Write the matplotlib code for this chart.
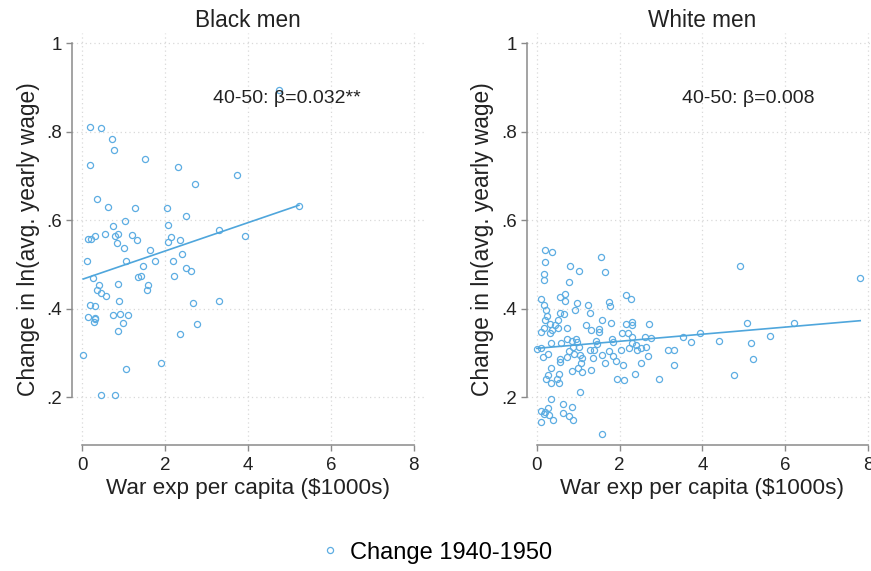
import matplotlib
matplotlib.use("Agg")
import matplotlib.pyplot as plt
import numpy as np

plt.rcParams['font.family'] = ['Liberation Sans', 'DejaVu Sans']

# Black men, change 1940-1950 (war exp per capita in $1000s, change in ln wage)
black_x = [0.18, 0.44, 0.72, 0.77, 0.19, 1.51, 2.30, 3.73, 2.71, 0.35, 0.62, 1.26, 2.04, 2.51,
           1.04, 0.75, 2.08, 0.55, 0.85, 1.20, 0.31, 0.14, 0.21, 0.79, 1.31, 2.14, 2.37, 2.06,
           0.83, 3.30, 3.94, 5.23, 1.00, 1.63, 2.41, 0.10, 1.05, 1.75, 2.19, 1.46, 2.51, 2.62,
           0.26, 1.34, 1.42, 2.22, 0.39, 0.87, 1.58, 0.35, 1.57, 0.46, 0.56, 0.88, 0.18, 0.30,
           2.67, 3.30, 0.14, 0.30, 0.31, 0.74, 0.90, 1.09, 0.29, 0.85, 0.98, 2.76, 2.36, 0.02,
           1.05, 1.91, 0.46, 0.78, 4.74]
black_y = [0.810, 0.809, 0.783, 0.760, 0.725, 0.738, 0.721, 0.703, 0.683, 0.649, 0.630, 0.629,
           0.627, 0.611, 0.598, 0.588, 0.590, 0.570, 0.570, 0.568, 0.565, 0.557, 0.558, 0.564,
           0.556, 0.562, 0.556, 0.551, 0.549, 0.578, 0.565, 0.633, 0.537, 0.533, 0.525, 0.509,
           0.509, 0.508, 0.509, 0.496, 0.492, 0.485, 0.471, 0.472, 0.475, 0.474, 0.453, 0.456,
           0.455, 0.443, 0.443, 0.435, 0.429, 0.419, 0.409, 0.406, 0.413, 0.417, 0.381, 0.380,
           0.378, 0.387, 0.388, 0.387, 0.370, 0.351, 0.368, 0.367, 0.344, 0.296, 0.264, 0.277,
           0.205, 0.205, 0.895]

# White men, change 1940-1950
white_x = [0.19, 0.36, 0.19, 1.55, 0.79, 1.02, 1.65, 0.18, 0.18, 0.77, 4.90, 7.81, 0.10, 0.56,
           0.69, 0.68, 2.16, 2.27, 0.17, 0.97, 1.23, 1.75, 1.76, 0.21, 0.55, 0.65, 0.91, 1.28,
           0.24, 0.19, 0.32, 0.44, 0.50, 0.37, 0.52, 0.72, 0.09, 0.18, 0.31, 1.58, 1.80, 1.19,
           1.30, 1.50, 1.50, 2.15, 2.31, 2.31, 2.72, 2.06, 2.19, 2.29, 2.60, 2.75, 5.08, 6.21,
           0.73, 0.84, 0.94, 0.98, 0.59, 0.33, 0.00, 0.09, 0.87, 1.02, 1.44, 1.46, 1.82, 1.85,
           2.31, 2.39, 2.51, 2.63, 2.42, 2.23, 2.04, 3.52, 3.94, 3.73, 4.39, 5.18, 5.64, 3.16,
           3.31, 0.77, 0.90, 1.04, 1.10, 0.73, 0.57, 0.55, 0.14, 0.27, 1.28, 1.38, 1.74, 1.58,
           1.84, 1.90, 2.07, 2.69, 2.51, 3.31, 5.23, 1.35, 1.64, 1.06, 0.99, 0.84, 0.35, 0.53,
           1.10, 1.31, 2.36, 2.95, 1.93, 2.11, 4.75, 0.27, 0.21, 0.48, 0.54, 0.34, 1.05, 0.35,
           0.62, 0.86, 0.11, 0.19, 0.27, 0.18, 0.63, 0.30, 0.78, 0.88, 0.40, 0.10, 1.58]
white_y = [0.534, 0.528, 0.507, 0.517, 0.496, 0.486, 0.484, 0.478, 0.465, 0.461, 0.498, 0.470,
           0.422, 0.427, 0.433, 0.418, 0.431, 0.422, 0.409, 0.413, 0.409, 0.415, 0.407, 0.397,
           0.391, 0.388, 0.397, 0.391, 0.385, 0.376, 0.366, 0.363, 0.358, 0.353, 0.376, 0.356,
           0.348, 0.356, 0.345, 0.375, 0.369, 0.363, 0.352, 0.354, 0.347, 0.366, 0.371, 0.363,
           0.367, 0.345, 0.345, 0.337, 0.337, 0.335, 0.369, 0.369, 0.333, 0.328, 0.332, 0.325,
           0.322, 0.322, 0.309, 0.311, 0.315, 0.315, 0.328, 0.321, 0.331, 0.326, 0.322, 0.318,
           0.311, 0.315, 0.308, 0.312, 0.308, 0.336, 0.345, 0.326, 0.328, 0.324, 0.340, 0.308,
           0.308, 0.305, 0.299, 0.296, 0.290, 0.292, 0.288, 0.281, 0.292, 0.299, 0.308, 0.307,
           0.305, 0.296, 0.293, 0.282, 0.274, 0.293, 0.279, 0.273, 0.287, 0.290, 0.277, 0.277,
           0.266, 0.260, 0.266, 0.254, 0.258, 0.262, 0.254, 0.241, 0.241, 0.239, 0.251, 0.250,
           0.241, 0.241, 0.232, 0.232, 0.213, 0.196, 0.185, 0.178, 0.169, 0.168, 0.177, 0.162,
           0.166, 0.160, 0.158, 0.150, 0.150, 0.145, 0.117]

# linear fits (intercept, slope) as shown on the chart
black_fit = [0.467, 0.032]
white_fit = [0.311, 0.008]

titles = ["Black men", "White men"]
notes = ["40-50: β=0.032**", "40-50: β=0.008"]
note_x = [3.16, 3.51]

x_ticks = [0, 2, 4, 6, 8]
y_ticks = [0.2, 0.4, 0.6, 0.8, 1.0]
y_ticklabels = [".2", ".4", ".6", ".8", "1"]

dot_color = '#5DADE2'
line_color = '#4FA6DC'
axis_color = '#8a8a8a'

fig = plt.figure(figsize=(8.71, 5.71), dpi=100)
ax1 = fig.add_axes([0.0827, 0.2198, 0.404, 0.7224])
ax2 = fig.add_axes([0.6045, 0.2198, 0.404, 0.7224])

panels = [(ax1, black_x, black_y, black_fit), (ax2, white_x, white_y, white_fit)]

for i, (ax, xs, ys, fit) in enumerate(panels):
    ax.set_xlim(-0.25, 8.25)
    ax.set_ylim(0.0915, 1.0235)
    ax.set_xticks(x_ticks)
    ax.set_yticks(y_ticks)
    ax.set_yticklabels(y_ticklabels)
    ax.grid(True, linestyle=(0, (1, 2.5)), color='#d9d9d9', linewidth=0.9)
    ax.set_axisbelow(True)

    for s in ['top', 'right']:
        ax.spines[s].set_visible(False)
    ax.spines['left'].set_bounds(0.2, 1.0)
    ax.spines['bottom'].set_bounds(0, 8)
    ax.spines['left'].set_color(axis_color)
    ax.spines['bottom'].set_color(axis_color)
    ax.spines['left'].set_linewidth(1.1)
    ax.spines['bottom'].set_linewidth(1.1)
    ax.tick_params(axis='both', direction='out', length=4, width=1.0, color=axis_color,
                   labelsize=13.5, labelcolor='#222222')
    ax.tick_params(axis='y', pad=3)
    ax.tick_params(axis='x', pad=4)

    ax.plot(xs, ys, 'o', markerfacecolor='none', markeredgecolor=dot_color,
            markersize=4.4, markeredgewidth=0.9, label='Change 1940-1950')
    fx = np.array([min(xs), max(xs)])
    ax.plot(fx, fit[0] + fit[1] * fx, color=line_color, linewidth=1.2)

    ax.set_title(titles[i], fontsize=16.3, pad=4, color='#222222')
    ax.set_xlabel('War exp per capita ($1000s)', fontsize=16.2, color='#222222', labelpad=3)
    ax.set_ylabel('Change in ln(avg. yearly wage)', fontsize=16.4, color='#222222', labelpad=5)
    ax.text(note_x[i], 0.876, notes[i], fontsize=14, va='center', ha='left', color='#222222')

handles, labels = ax1.get_legend_handles_labels()
fig.legend(handles, labels, loc='center', bbox_to_anchor=(0.5, 0.032), frameon=False,
           fontsize=17, handletextpad=0.35, handlelength=1.0, markerscale=1.0)

fig.savefig('out.png', dpi=100)
